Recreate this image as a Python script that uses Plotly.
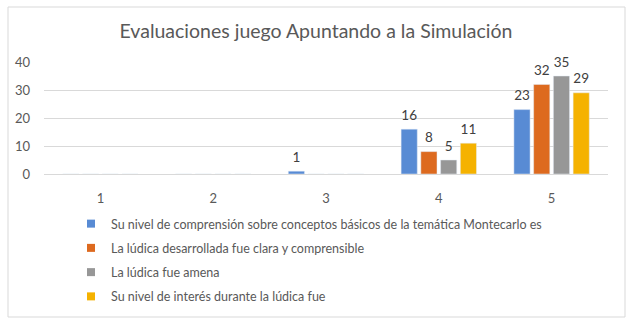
import plotly.graph_objects as go

categories = ["1", "2", "3", "4", "5"]
series_names = [
    "Su nivel de comprensión sobre conceptos básicos de la temática Montecarlo es",
    "La lúdica desarrollada fue clara y comprensible",
    "La lúdica fue amena",
    "Su nivel de interés durante la lúdica fue",
]
s_comprension = [0, 0, 1, 16, 23]
s_clara = [0, 0, 0, 8, 32]
s_amena = [0, 0, 0, 5, 35]
s_interes = [0, 0, 0, 11, 29]
colors = ["#588BD4", "#DD6A1F", "#979797", "#F5B200"]
y_ticks = [0, 10, 20, 30, 40]

FONT = "Lato, 'Open Sans', sans-serif"
W, H = 632, 323
L, R, T, B = 44, 24, 62, 149

fig = go.Figure()
for i, (name, vals, col) in enumerate(zip(series_names, [s_comprension, s_clara, s_amena, s_interes], colors)):
    fig.add_trace(go.Bar(
        x=categories, y=vals, name=name, marker_color=col,
        offsetgroup=str(i), legendgroup=name, showlegend=False,
    ))
for i, (name, vals, col) in enumerate(zip(series_names, [s_comprension, s_clara, s_amena, s_interes], colors)):
    # data labels, aligned with their bars
    fig.add_trace(go.Scatter(
        x=categories, y=vals, mode="markers+text", offsetgroup=str(i),
        text=[str(v) if v else "" for v in vals], textposition="top center",
        textfont=dict(size=13.5, color="#404040", family=FONT),
        marker=dict(size=8, opacity=0), cliponaxis=False,
        hoverinfo="skip", showlegend=False,
    ))
    # legend-only entry with a small square symbol
    fig.add_trace(go.Scatter(
        x=[None], y=[None], mode="markers", name=name,
        marker=dict(symbol="square", size=8, color=col),
        legendgroup=name, showlegend=True,
    ))

pw = W - L - R
ph = H - T - B
fig.add_shape(type="rect", xref="paper", yref="paper",
              x0=(8 - L) / pw, x1=(625 - L) / pw,
              y0=(H - B - 317) / ph, y1=(H - B - 7) / ph,
              line=dict(color="#D9D9D9", width=1), fillcolor="rgba(0,0,0,0)", layer="below")

fig.update_layout(
    width=W, height=H,
    margin=dict(l=L, r=R, t=T, b=B, autoexpand=False),
    paper_bgcolor="white", plot_bgcolor="white",
    barmode="group", bargap=0.3, bargroupgap=0.18,
    scattermode="group", scattergap=0.3,
    title=dict(text="Evaluaciones juego Apuntando a la Simulación",
               x=0.5, xanchor="center", y=1 - 31 / H, yanchor="middle",
               font=dict(size=19.5, color="#595959", family=FONT)),
    font=dict(family=FONT, color="#595959", size=12),
    showlegend=True,
    legend=dict(orientation="v", x=(71 - L) / pw, xanchor="left",
                y=(H - B - 209) / ph, yanchor="top",
                traceorder="grouped", tracegroupgap=5,
                font=dict(size=12.5, color="#595959", family=FONT),
                bgcolor="rgba(0,0,0,0)"),
    xaxis=dict(showgrid=False, showline=True, linecolor="#D9D9D9", ticks="",
               tickfont=dict(size=13, color="#595959"), ticklabelstandoff=12,
               fixedrange=True),
    yaxis=dict(range=[0, 40], tickvals=y_ticks, showgrid=True, gridcolor="#D9D9D9",
               zeroline=False, showline=False, ticks="",
               tickfont=dict(size=13, color="#595959"), ticklabelstandoff=13,
               fixedrange=True),
)

fig.write_html("out.html")
